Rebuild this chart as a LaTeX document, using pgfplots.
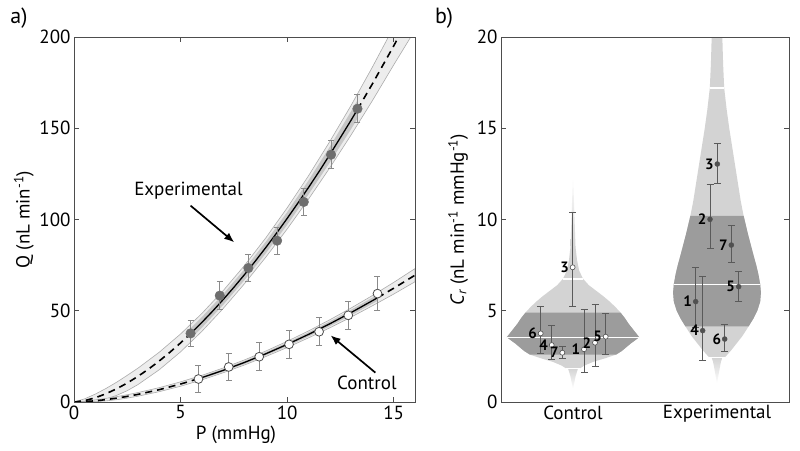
\documentclass[border=0pt]{standalone}
\usepackage{fontspec}
\setmainfont{PT Sans}
\usepackage{pgfplots}
\pgfplotsset{compat=1.18}
\usetikzlibrary{arrows.meta}
\definecolor{axisgray}{HTML}{4D4D4D}
\definecolor{bandout}{HTML}{EDEDED}
\definecolor{bandline}{HTML}{ABABAB}
\definecolor{bandin}{HTML}{C6C6C6}
\definecolor{expfill}{HTML}{6E6E6E}
\definecolor{errgray}{HTML}{8A8A8A}
\definecolor{violight}{HTML}{D3D3D3}
\definecolor{viodark}{HTML}{9C9C9C}
\definecolor{ptdark}{HTML}{505050}
\definecolor{errdark}{HTML}{5A5A5A}
\pgfplotsset{
  common/.style={
    scale only axis, height=365pt, anchor=south west,
    axis on top,
    tick align=inside, major tick length=5pt,
    axis line style={axisgray, line width=0.9pt},
    tick style={axisgray, line width=0.8pt},
    ticklabel style={font=\fontsize{19}{19}\selectfont},
    /pgf/number format/assume math mode=true,
    label style={font=\fontsize{19}{19}\selectfont},
  }
}
\begin{document}
\begin{tikzpicture}
\useasboundingbox (0pt,0pt) rectangle (800pt,-450pt);
\node[font=\fontsize{22}{22}\selectfont] at (19pt,-18pt) {a)};
\node[font=\fontsize{22}{22}\selectfont] at (444pt,-18pt) {b)};
% ---------------- panel a
\begin{axis}[common,
  at={(74pt,-402pt)}, width=341pt,
  xmin=0, xmax=16, ymin=0, ymax=200,
  xtick={0,5,10,15}, ytick={0,50,100,150,200},
  xlabel={P (mmHg)}, ylabel={Q (nL min\textsuperscript{-1})},
  xlabel style={at={(axis description cs:0.475,-0.09)}, anchor=center},
  ylabel style={at={(axis description cs:-0.147,0.5)}, anchor=center},
]
% experimental outer band
\addplot[fill=bandout, draw=bandline, line width=0.6pt] coordinates {
(0,0) (0.5,1.75) (1,4.33) (1.5,7.42) (2,10.84) (2.5,14.62) (3,18.54) (4,27.28) (5,37.27) (6,48.52) (7,61.03) (8,74.81) (9,89.95) (10,106.36) (11,123.9) (12,142.7) (13,162.5) (14,183.5) (15,205.5) (16,228.5)
(16,203.8) (15,184.7) (14,165.1) (13,146.3) (12,128.3) (11,111.1) (10,94.76) (9,79.35) (8,64.81) (7,51.23) (6,38.72) (5,27.47) (4,17.68) (3,9.54) (2.5,6.22) (2,3.64) (1.5,1.62) (1,0.5) (0.5,0.1) (0,0)};
% control outer band
\addplot[fill=bandout, draw=bandline, line width=0.6pt] coordinates {
(0,0) (0.5,0.506) (1,1.159) (1.5,2.002) (2,2.962) (2.5,4.0) (3,5.173) (4,7.867) (5,11.04) (6,14.62) (7,18.63) (8,23.08) (9,27.93) (10,33.25) (11,38.92) (12,45.04) (13,51.5) (14,58.32) (15,65.53) (16,73.09)
(16,65.89) (15,59.13) (14,52.72) (13,46.5) (12,40.64) (11,35.12) (10,29.85) (9,24.93) (8,20.28) (7,16.03) (6,12.12) (5,8.643) (4,5.667) (3,3.173) (2.5,2.14) (2,1.262) (1.5,0.602) (1,0.159) (0.5,0.05) (0,0)};
% inner bands
\addplot[fill=bandin, draw=none] coordinates {
(5.47,40.44) (6,46.56) (7,59.07) (8,72.81) (9,87.83) (10,104.04) (11,121.34) (12,139.82) (13,159.26) (13.3,165.3)
(13.3,155.3) (13,149.54) (12,131.18) (11,113.66) (10,97.08) (9,81.47) (8,66.81) (7,53.19) (6,40.68) (5.47,34.56)};
\addplot[fill=bandin, draw=none] coordinates {
(5.84,13.53) (6,14.12) (7,18.11) (8,22.52) (9,27.33) (10,32.57) (11,38.16) (12,44.16) (13,50.5) (14,57.2) (14.24,58.84)
(14.24,55.4) (14,53.84) (13,47.5) (12,41.52) (11,35.88) (10,30.53) (9,25.53) (8,20.84) (7,16.55) (6,12.62) (5.84,12.05)};
% fit curves
\addplot[black, line width=1.6pt, dash pattern=on 7pt off 5pt] coordinates {
(0,0) (0.5,0.75) (1,2.33) (1.5,4.52) (2,7.24) (2.5,10.42) (3,14.04) (3.5,18.07) (4,22.48) (4.5,27.26) (5,32.37) (5.47,37.50)};
\addplot[black, line width=1.3pt] coordinates {
(5.47,37.50) (6,43.62) (6.5,49.72) (7,56.13) (7.5,62.82) (8,69.81) (8.5,77.10) (9,84.65) (9.5,92.45) (10,100.56) (10.5,108.9) (11,117.5) (11.5,126.3) (12,135.5) (12.5,144.9) (13,154.4) (13.3,160.3)};
\addplot[black, line width=1.6pt, dash pattern=on 7pt off 5pt] coordinates {
(13.3,160.3) (14,174.3) (15,195.1) (16,216.8)};
\addplot[black, line width=1.6pt, dash pattern=on 7pt off 5pt] coordinates {
(0,0) (0.5,0.206) (1,0.659) (1.5,1.302) (2,2.112) (2.5,3.072) (3,4.173) (4,6.767) (5,9.843) (5.84,12.79)};
\addplot[black, line width=1.3pt] coordinates {
(5.84,12.79) (6,13.37) (7,17.33) (8,21.68) (9,26.43) (10,31.55) (11,37.02) (12,42.84) (13,49.00) (14,55.52) (14.24,57.12)};
\addplot[black, line width=1.6pt, dash pattern=on 7pt off 5pt] coordinates {
(14.24,57.12) (15,62.33) (16,69.49)};
% data points
\addplot[only marks, mark=*, mark size=4.8pt, mark options={fill=expfill, draw=expfill},
  error bars/.cd, y dir=both, y explicit,
  error bar style={errgray, line width=0.9pt},
  error mark options={rotate=90, mark size=3pt, errgray, line width=0.9pt}]
  coordinates {
(5.47,37.6) +- (0,7.3) (6.84,58.3) +- (0,7.5) (8.18,73.4) +- (0,7.5) (9.53,88.4) +- (0,7.5)
(10.78,109.6) +- (0,7.5) (12.06,135.5) +- (0,7.6) (13.30,160.7) +- (0,7.7)};
\addplot[only marks, mark=*, mark size=4.4pt, mark options={fill=white, draw=axisgray, line width=0.8pt},
  error bars/.cd, y dir=both, y explicit,
  error bar style={errgray, line width=0.9pt},
  error mark options={rotate=90, mark size=3pt, errgray, line width=0.9pt}]
  coordinates {
(5.84,12.6) +- (0,7.6) (7.26,19.2) +- (0,7.6) (8.69,24.8) +- (0,7.6) (10.09,31.6) +- (0,7.6)
(11.5,38.5) +- (0,7.7) (12.87,47.5) +- (0,7.8) (14.24,59.4) +- (0,9.5)};
% annotations
\node[font=\fontsize{19}{19}\selectfont] at (axis cs:5.37,115.6) {Experimental};
\draw[-{Latex[length=10pt,width=8pt]}, line width=1.7pt] (axis cs:5.47,107.6) -- (axis cs:7.52,87.5);
\node[font=\fontsize{19}{19}\selectfont] at (axis cs:13.74,10.4) {Control};
\draw[-{Latex[length=10pt,width=8pt]}, line width=1.7pt] (axis cs:14.14,16.1) -- (axis cs:12.04,36.5);
\end{axis}
% ---------------- panel b
\begin{axis}[common,
  at={(501pt,-402pt)}, width=288pt,
  xmin=0, xmax=4, ymin=0, ymax=20,
  xtick={1,3}, xticklabels={Control,Experimental},
  x tick style={draw=none},
  ytick={0,5,10,15,20},
  ylabel={{\itshape C}\textsubscript{\itshape r} (nL min\textsuperscript{-1} mmHg\textsuperscript{-1})},
  ylabel style={at={(axis description cs:-0.149,0.5)}, anchor=center},
]
% control violin body
\addplot[fill=violight, draw=none] coordinates {
(0.90,1.85) (0.84,2.0) (0.72,2.2) (0.55,2.4) (0.40,2.6) (0.32,2.8) (0.26,3.0) (0.20,3.2) (0.13,3.4) (0.08,3.55) (0.11,3.7) (0.17,4.0) (0.23,4.3) (0.28,4.6) (0.34,4.9) (0.41,5.2) (0.49,5.5) (0.58,5.8) (0.68,6.1) (0.78,6.4) (0.86,6.75) (0.915,7.2) (0.945,7.8) (0.965,8.5)
(1.035,8.5) (1.055,7.8) (1.085,7.2) (1.14,6.75) (1.22,6.4) (1.32,6.1) (1.42,5.8) (1.51,5.5) (1.59,5.2) (1.66,4.9) (1.72,4.6) (1.77,4.3) (1.83,4.0) (1.89,3.7) (1.92,3.55) (1.87,3.4) (1.80,3.2) (1.74,3.0) (1.68,2.8) (1.60,2.6) (1.45,2.4) (1.28,2.2) (1.16,2.0) (1.10,1.85)};
\addplot[fill=viodark, draw=none] coordinates {
(0.40,2.6) (0.32,2.8) (0.26,3.0) (0.20,3.2) (0.13,3.4) (0.08,3.55) (0.11,3.7) (0.17,4.0) (0.23,4.3) (0.28,4.6) (0.34,4.9)
(1.66,4.9) (1.72,4.6) (1.77,4.3) (1.83,4.0) (1.89,3.7) (1.92,3.55) (1.87,3.4) (1.80,3.2) (1.74,3.0) (1.68,2.8) (1.60,2.6)};
\addplot[draw=none, top color=white, bottom color=violight] coordinates {(0.965,8.5) (1,12.5) (1.035,8.5)};
\addplot[draw=none, top color=violight, bottom color=white] coordinates {(0.93,1.85) (0.965,1.4) (1,0.7) (1.035,1.4) (1.07,1.85)};
% experimental violin body
\addplot[fill=violight, draw=none] coordinates {
(2.89,2.45) (2.81,2.8) (2.73,3.2) (2.65,3.6) (2.56,4.15) (2.49,4.6) (2.44,5.0) (2.40,5.5) (2.39,6.0) (2.40,6.45) (2.425,7.0) (2.455,7.5) (2.49,8.0) (2.53,8.6) (2.57,9.2) (2.60,9.7) (2.63,10.2) (2.67,11.0) (2.71,12.0) (2.75,13.0) (2.79,14.0) (2.83,15.0) (2.865,16.0) (2.90,17.2) (2.915,18.5) (2.93,20.5)
(3.07,20.5) (3.085,18.5) (3.10,17.2) (3.135,16.0) (3.17,15.0) (3.21,14.0) (3.25,13.0) (3.29,12.0) (3.33,11.0) (3.37,10.2) (3.40,9.7) (3.43,9.2) (3.47,8.6) (3.51,8.0) (3.545,7.5) (3.575,7.0) (3.60,6.45) (3.61,6.0) (3.60,5.5) (3.56,5.0) (3.51,4.6) (3.44,4.15) (3.35,3.6) (3.27,3.2) (3.19,2.8) (3.11,2.45)};
\addplot[fill=viodark, draw=none] coordinates {
(2.56,4.15) (2.49,4.6) (2.44,5.0) (2.40,5.5) (2.39,6.0) (2.40,6.45) (2.425,7.0) (2.455,7.5) (2.49,8.0) (2.53,8.6) (2.57,9.2) (2.60,9.7) (2.63,10.2)
(3.37,10.2) (3.40,9.7) (3.43,9.2) (3.47,8.6) (3.51,8.0) (3.545,7.5) (3.575,7.0) (3.60,6.45) (3.61,6.0) (3.60,5.5) (3.56,5.0) (3.51,4.6) (3.44,4.15)};
\addplot[draw=none, top color=violight, bottom color=white] coordinates {(2.925,2.45) (2.945,2.2) (2.96,1.9) (2.978,1.5) (3,1.0) (3.022,1.5) (3.04,1.9) (3.055,2.2) (3.075,2.45)};
% white quantile lines
\addplot[white, line width=1.4pt] coordinates {(0.08,3.55) (1.92,3.55)};
\addplot[white, line width=1.4pt] coordinates {(0.86,6.75) (1.14,6.75)};
\addplot[white, line width=1.4pt] coordinates {(0.90,1.85) (1.10,1.85)};
\addplot[white, line width=1.4pt] coordinates {(2.40,6.45) (3.60,6.45)};
\addplot[white, line width=1.4pt] coordinates {(2.90,17.2) (3.10,17.2)};
\addplot[white, line width=1.4pt] coordinates {(2.89,2.45) (3.11,2.45)};
% control points
\addplot[only marks, mark=*, mark size=2.5pt, mark options={fill=white, draw=ptdark, line width=0.6pt},
  point meta=explicit symbolic, nodes near coords,
  every node near coord/.append style={anchor=east, xshift=-3pt, inner sep=0.5pt, font=\fontsize{15}{15}\selectfont\bfseries, text=black},
  error bars/.cd, y dir=both, y explicit,
  error bar style={errdark, line width=0.9pt},
  error mark options={rotate=90, mark size=3.5pt, errdark, line width=0.9pt}]
  table[x=x, y=y, y error plus=ep, y error minus=em, meta=lab] {
x y ep em lab
0.551 3.76 1.46 1.09 6
0.704 3.12 1.06 0.78 4
0.852 2.70 0.33 0.34 7
1.153 2.89 2.19 1.25 1
1.306 3.25 2.10 1.31 2
1.454 3.58 1.26 0.95 5
0.995 7.38 3.01 2.12 3
};
% experimental points
\addplot[only marks, mark=*, mark size=2.5pt, mark options={fill=ptdark, draw=ptdark},
  point meta=explicit symbolic, nodes near coords,
  every node near coord/.append style={anchor=east, xshift=-3pt, inner sep=0.5pt, font=\fontsize{15}{15}\selectfont\bfseries, text=black},
  error bars/.cd, y dir=both, y explicit,
  error bar style={errdark, line width=0.9pt},
  error mark options={rotate=90, mark size=3.5pt, errdark, line width=0.9pt}]
  table[x=x, y=y, y error plus=ep, y error minus=em, meta=lab] {
x y ep em lab
3.004 13.04 1.13 1.08 3
2.903 10.01 1.92 1.61 2
3.199 8.60 1.06 0.95 7
3.301 6.32 0.86 0.79 5
2.704 5.50 1.88 1.40 1
2.801 3.91 2.96 1.66 4
3.107 3.45 0.81 0.66 6
};
\end{axis}
\end{tikzpicture}
\end{document}
